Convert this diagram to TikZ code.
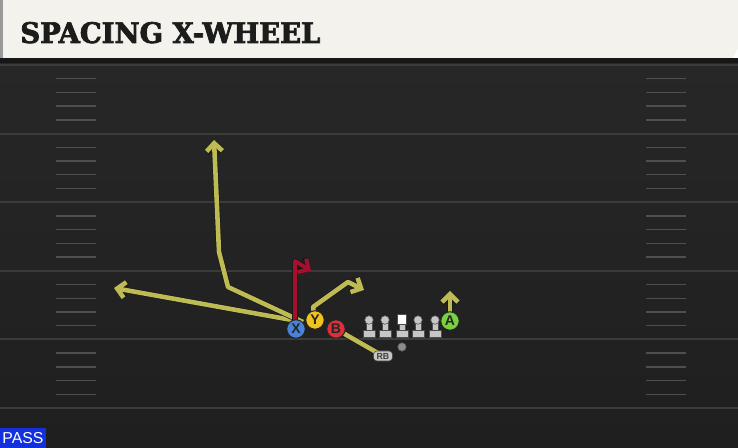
\documentclass[tikz,border=0pt]{standalone}
\usepackage{fontspec}
\setmainfont{Liberation Sans}
\newfontfamily\titlefont[FakeBold=2.5]{DejaVu Serif Condensed}
\usetikzlibrary{arrows.meta}

\definecolor{cream}{HTML}{F4F2EC}
\definecolor{titleink}{HTML}{1C1C1C}
\definecolor{field}{HTML}{272727}
\definecolor{fieldlow}{HTML}{1F1F1F}
\definecolor{band}{HTML}{171717}
\definecolor{yardgrey}{HTML}{3B3B3B}
\definecolor{routeyellow}{HTML}{BEBB55}
\definecolor{routered}{HTML}{A60F2E}
\definecolor{xblue}{HTML}{4784D9}
\definecolor{yyellow}{HTML}{F2C21D}
\definecolor{bred}{HTML}{DC3039}
\definecolor{agreen}{HTML}{78D13E}
\definecolor{olgrey}{HTML}{C6C6C6}
\definecolor{passblue}{HTML}{1230DD}

\tikzset{
  yardline/.style={draw=yardgrey, line width=1.1pt},
  hashmark/.style={draw=yardgrey!90, line width=0.8pt},
  route/.style={draw=routeyellow, line width=2.6pt, line join=round,
    -{Straight Barb[length=4.5pt,width=9pt]},
    preaction={draw=black!90, line width=3.4pt, line join=round,
      -{Straight Barb[length=4.5pt,width=9pt]}}},
  redroute/.style={route, draw=routered, line width=2.2pt},
  plainroute/.style={draw=routeyellow, line width=2.6pt,
    preaction={draw=black!90, line width=3.4pt}},
  player/.style={circle, draw=black!85, line width=0.6pt, minimum size=0.37cm,
    inner sep=0pt, text=black!85, font=\bfseries\fontsize{8}{8}\selectfont},
  lineman/.style={fill=olgrey, draw=black!70, line width=0.3pt}
}

\begin{document}
\begin{tikzpicture}[x=0.02cm,y=-0.02cm]
\useasboundingbox (0,0) rectangle (738,448);

% field
\shade[top color=field, bottom color=fieldlow] (0,59) rectangle (738,448);
\fill[band] (0,58) rectangle (738,63);
\foreach \k in {0,...,5}
  \draw[yardline] (0,{65+68.6*\k}) -- (738,{65+68.6*\k});
\foreach \k in {0,...,4}
  \foreach \j in {1,...,4} {
    \draw[hashmark] (56,{65+68.6*\k+13.72*\j}) -- (96,{65+68.6*\k+13.72*\j});
    \draw[hashmark] (646,{65+68.6*\k+13.72*\j}) -- (686,{65+68.6*\k+13.72*\j});
  }

% title bar
\fill[black!40] (0,0) rectangle (3,58);
\fill[cream] (3,0) -- (738,0) -- (738,48) -- (733,58) -- (3,58) -- cycle;
\node[anchor=base west, inner sep=0pt, text=titleink] (title) at (20,43)
  {\resizebox{6cm}{0.42cm}{\titlefont\bfseries SPACING X-WHEEL}};

% route points
\coordinate (wheel) at (303,322);
\coordinate (leftend) at (114,288);
\coordinate (wbreak) at (228,287);
\coordinate (wbend) at (219,252);
\coordinate (wend) at (214,140);
\coordinate (xtop) at (295,261);
\coordinate (xend) at (311,271);
\coordinate (ybreak) at (313,307);
\coordinate (ycorner) at (348,282);
\coordinate (yend) at (364,290);
\coordinate (aend) at (450,291);

% routes
\draw[plainroute] (383,356) -- (336,329);
\draw[route] (wheel) -- (leftend);
\draw[route] (wheel) -- (wbreak) -- (wbend) -- (wend);
\draw[redroute] (295,329) -- (xtop) -- (xend);
\draw[route] (315,320) -- (ybreak) -- (ycorner) -- (yend);
\draw[route] (450,321) -- (aend);

% line
\foreach \lx in {369,385,402,418,435} {
  \fill[lineman] (\lx-3,322) rectangle (\lx+3,332);
  \fill[lineman] (\lx-6,330) rectangle (\lx+6,337);
}
\foreach \lx in {369,385,418,435}
  \fill[lineman] (\lx,320) circle (4.3);
\fill[white, draw=black!70, line width=0.3pt] (397.5,314.5) rectangle (406.5,324);
\fill[black!45, draw=black!70, line width=0.3pt] (402,347) circle (4.3);

% players
\node[player, fill=xblue] (X) at (296,329) {X};
\node[player, fill=yyellow] (Y) at (315,320) {Y};
\node[player, fill=bred] (B) at (336,329) {B};
\node[player, fill=agreen] (A) at (450,321) {A};
\node[fill=olgrey, draw=black!70, line width=0.3pt, rounded corners=2pt,
  minimum width=0.38cm, minimum height=0.2cm, inner sep=0pt,
  font=\bfseries\fontsize{5}{5}\selectfont, text=black!75] (RB) at (383,356) {RB};

% play type
\node[fill=passblue, text=white, minimum width=0.92cm, minimum height=0.4cm,
  inner sep=0pt, font=\fontsize{9}{9}\selectfont] (pass) at (23,438) {PASS};
\end{tikzpicture}
\end{document}
